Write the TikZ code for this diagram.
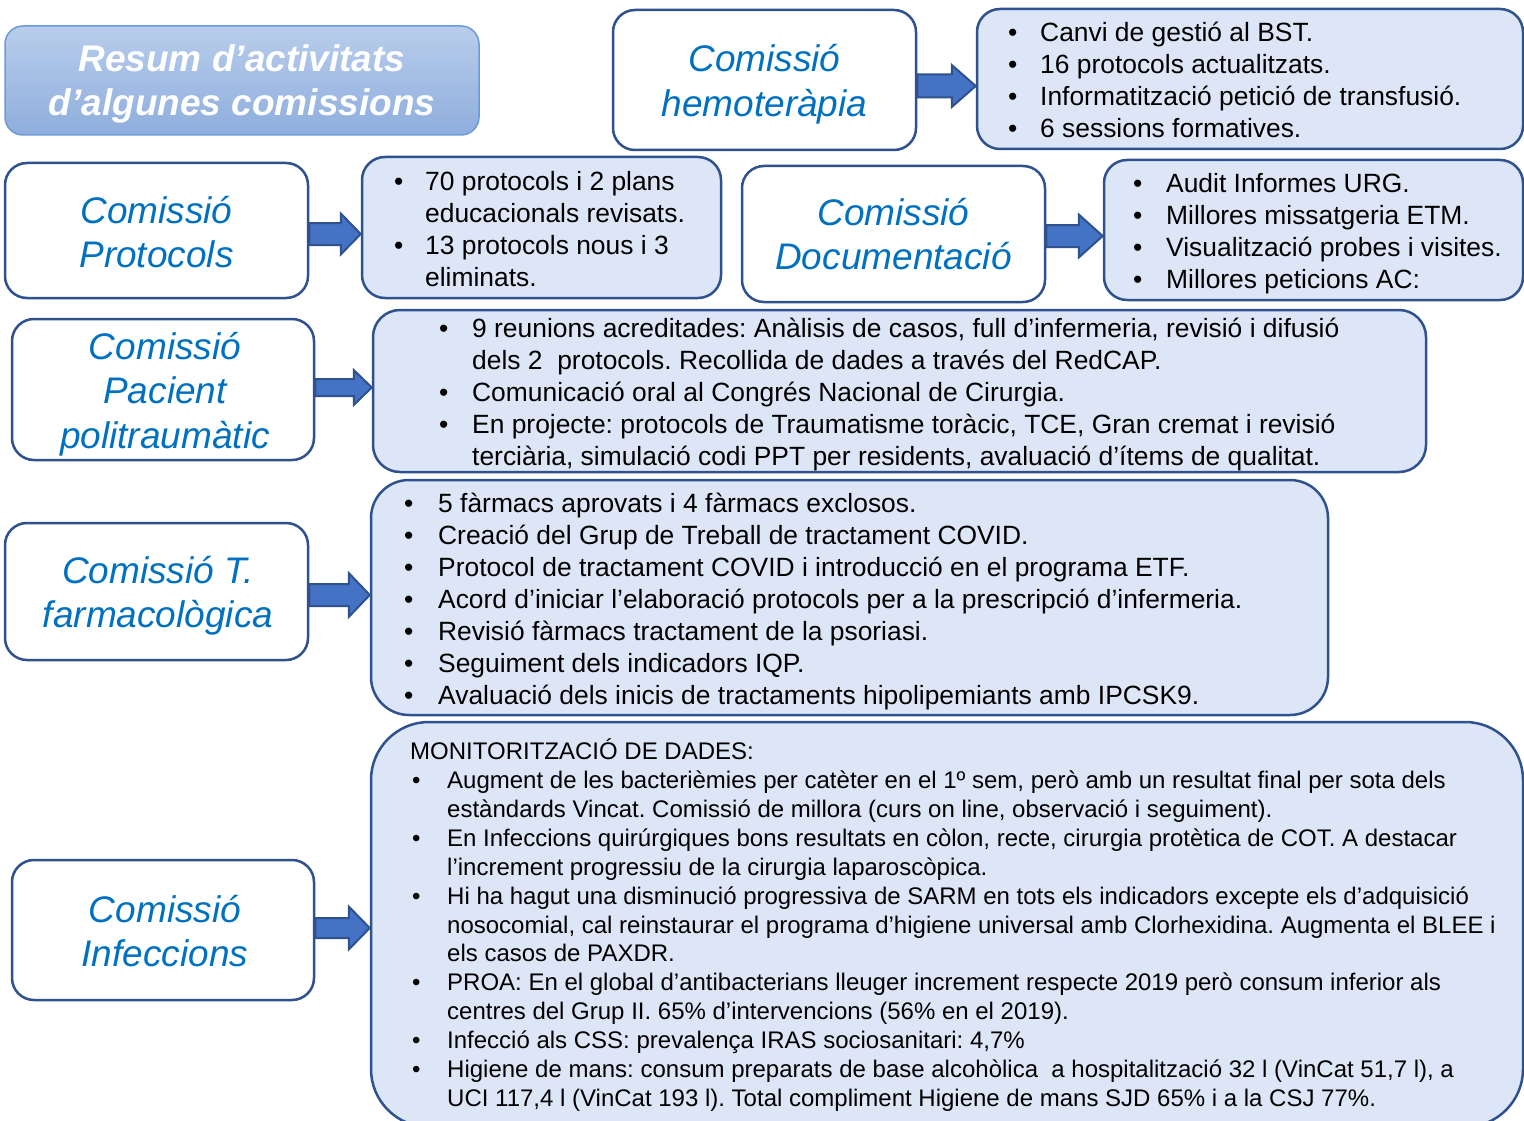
\documentclass[tikz,border=0pt]{standalone}
\usepackage{fontspec}
\setmainfont{Liberation Sans}
\frenchspacing
\usetikzlibrary{calc}
\definecolor{lblue}{HTML}{0070C0}
\definecolor{bord}{HTML}{2F528F}
\definecolor{cfill}{HTML}{DDE6F7}
\definecolor{afill}{HTML}{4472C4}
\definecolor{ttop}{HTML}{B8CDEB}
\definecolor{tbot}{HTML}{8FAEDD}
\definecolor{tbord}{HTML}{6A9BD6}
\newcommand\blkarrow[6]{%
  \draw[blockarrow] ($(#1.east |- #3)+(0,-#4)$) -- ($(#2.west |- #3)+(-#6,-#4)$)
    -- ($(#2.west |- #3)+(-#6,-#5)$) -- (#2.west |- #3) -- ($(#2.west |- #3)+(-#6,#5)$)
    -- ($(#2.west |- #3)+(-#6,#4)$) -- ($(#1.east |- #3)+(0,#4)$) -- cycle;}
\tikzset{
  labbox/.style={draw=bord, line width=2.5pt, fill=white, rectangle, rounded corners=22pt, inner sep=0pt},
  contbox/.style={draw=bord, line width=2.5pt, fill=cfill, rectangle, inner sep=0pt},
  labtxt/.style={text=lblue, font=\fontsize{37}{44.5}\selectfont\itshape, inner sep=0pt, anchor=base},
  bodytxt/.style={text=black, font=\fontsize{26.4}{32}\selectfont, inner sep=0pt, anchor=base west},
  smalltxt/.style={text=black, font=\fontsize{24}{28.9}\selectfont, inner sep=0pt, anchor=base west},
  blockarrow/.style={draw=bord, line width=2pt, fill=afill, line join=miter},
}
\begin{document}
\begin{tikzpicture}[x=1pt,y=-1pt]
\clip (0,0) rectangle (1524,1121);
\fill[white] (0,0) rectangle (1524,1121);

% title
\node[draw=tbord, line width=1.5pt, top color=ttop, bottom color=tbot, rectangle, rounded corners=18pt,
      minimum width=474pt, minimum height=109pt, inner sep=0pt] (title) at (242,80.5) {};
\node[text=white, font=\fontsize{37}{44}\selectfont\bfseries\itshape, inner sep=0pt, anchor=base] (titleT) at (242,72)
  {\begin{tabular}[t]{@{}c@{}}Resum d’activitats\\d’algunes comissions\end{tabular}};

% boxes
\node[labbox, minimum width=303pt, minimum height=140pt] (hemoL) at (764.5,80) {};
\node[contbox, rounded corners=23pt, minimum width=546pt, minimum height=140pt] (hemoC) at (1250,79) {};
\node[labbox, minimum width=303pt, minimum height=135pt] (protL) at (156.5,230.5) {};
\node[contbox, rounded corners=23pt, minimum width=359pt, minimum height=141pt] (protC) at (541.5,227.5) {};
\node[labbox, minimum width=303pt, minimum height=136pt] (docL) at (893.5,234) {};
\node[contbox, rounded corners=23pt, minimum width=419pt, minimum height=140pt] (docC) at (1313.5,230) {};
\node[labbox, minimum width=302pt, minimum height=141pt] (pacL) at (163,389.5) {};
\node[contbox, rounded corners=27pt, minimum width=1053pt, minimum height=162pt] (pacC) at (899.5,391) {};
\node[labbox, minimum width=303pt, minimum height=137pt] (farmL) at (156.5,591.5) {};
\node[contbox, rounded corners=38pt, minimum width=957pt, minimum height=235pt] (farmC) at (849.5,597.5) {};
\node[labbox, minimum width=302pt, minimum height=140pt] (infL) at (163,930) {};
\node[contbox, rounded corners=58pt, minimum width=1152pt, minimum height=405pt] (infC) at (947,924.5) {};

% arrow levels
\coordinate (yhemo) at (0,86);
\coordinate (yprot) at (0,234);
\coordinate (ydoc) at (0,236);
\coordinate (ypac) at (0,387.5);
\coordinate (yfarm) at (0,595);
\coordinate (yinf) at (0,928);
\blkarrow{hemoL}{hemoC}{yhemo}{11.5}{21}{24}
\blkarrow{protL}{protC}{yprot}{11}{20.5}{20}
\blkarrow{docL}{docC}{ydoc}{11}{21.5}{24}
\blkarrow{pacL}{pacC}{ypac}{8.5}{17.5}{18}
\blkarrow{farmL}{farmC}{yfarm}{11}{22}{21}
\blkarrow{infL}{infC}{yinf}{10}{21.5}{21}

% labels
\node[labtxt] (hemoLT) at (764.5,72) {\begin{tabular}[t]{@{}c@{}}Comissió\\hemoteràpia\end{tabular}};
\node[labtxt] (protLT) at (156.5,223) {\begin{tabular}[t]{@{}c@{}}Comissió\\Protocols\end{tabular}};
\node[labtxt] (docLT) at (893.5,225) {\begin{tabular}[t]{@{}c@{}}Comissió\\Documentació\end{tabular}};
\node[labtxt] (pacLT) at (165,359) {\begin{tabular}[t]{@{}c@{}}Comissió\\Pacient\\politraumàtic\end{tabular}};
\node[labtxt] (farmLT) at (158,583) {\begin{tabular}[t]{@{}c@{}}Comissió T.\\farmacològica\end{tabular}};
\node[labtxt] (infLT) at (165,922) {\begin{tabular}[t]{@{}c@{}}Comissió\\Infeccions\end{tabular}};

% contents
\node[bodytxt] (hemoCT) at (1008,41.5) {\begin{tabular}[t]{@{}p{32pt}@{}l@{}}
• & Canvi de gestió al BST.\\
• & 16 protocols actualitzats.\\
• & Informatització petició de transfusió.\\
• & 6 sessions formatives.
\end{tabular}};
\node[bodytxt] (protCT) at (394,190.5) {\begin{tabular}[t]{@{}p{31pt}@{}l@{}}
• & 70 protocols i 2 plans\\
  & educacionals revisats.\\
• & 13 protocols nous i 3\\
  & eliminats.
\end{tabular}};
\node[bodytxt] (docCT) at (1133,192.5) {\begin{tabular}[t]{@{}p{33pt}@{}l@{}}
• & Audit Informes URG.\\
• & Millores missatgeria ETM.\\
• & Visualització probes i visites.\\
• & Millores peticions AC:
\end{tabular}};
\node[bodytxt] (pacCT) at (439,337.5) {\begin{tabular}[t]{@{}p{33pt}@{}l@{}}
• & 9 reunions acreditades: Anàlisis de casos, full d’infermeria, revisió i difusió\\
  & dels 2\ \ protocols. Recollida de dades a través del RedCAP.\\
• & Comunicació oral al Congrés Nacional de Cirurgia.\\
• & En projecte: protocols de Traumatisme toràcic, TCE, Gran cremat i revisió\\
  & terciària, simulació codi PPT per residents, avaluació d’ítems de qualitat.
\end{tabular}};
\node[bodytxt] (farmCT) at (404,512.5) {\begin{tabular}[t]{@{}p{34pt}@{}l@{}}
• & 5 fàrmacs aprovats i 4 fàrmacs exclosos.\\
• & Creació del Grup de Treball de tractament COVID.\\
• & Protocol de tractament COVID i introducció en el programa ETF.\\
• & Acord d’iniciar l’elaboració protocols per a la prescripció d’infermeria.\\
• & Revisió fàrmacs tractament de la psoriasi.\\
• & Seguiment dels indicadors IQP.\\
• & Avaluació dels inicis de tractaments hipolipemiants amb IPCSK9.
\end{tabular}};
\node[smalltxt] (infCT) at (410,759.6) {\begin{tabular}[t]{@{}p{37pt}@{}l@{}}
\multicolumn{2}{@{}l@{}}{MONITORITZACIÓ DE DADES:}\\
\hspace*{2pt}• & Augment de les bacterièmies per catèter en el 1º sem, però amb un resultat final per sota dels\\
  & estàndards Vincat. Comissió de millora (curs on line, observació i seguiment).\\
\hspace*{2pt}• & En Infeccions quirúrgiques bons resultats en còlon, recte, cirurgia protètica de COT. A destacar\\
  & l’increment progressiu de la cirurgia laparoscòpica.\\
\hspace*{2pt}• & Hi ha hagut una disminució progressiva de SARM en tots els indicadors excepte els d’adquisició\\
  & nosocomial, cal reinstaurar el programa d’higiene universal amb Clorhexidina. Augmenta el BLEE i\\
  & els casos de PAXDR.\\
\hspace*{2pt}• & PROA: En el global d’antibacterians lleuger increment respecte 2019 però consum inferior als\\
  & centres del Grup II. 65\% d’intervencions (56\% en el 2019).\\
\hspace*{2pt}• & Infecció als CSS: prevalença IRAS sociosanitari: 4,7\%\\
\hspace*{2pt}• & Higiene de mans: consum preparats de base alcohòlica\ \ a hospitalització 32 l (VinCat 51,7 l), a\\
  & UCI 117,4 l (VinCat 193 l). Total compliment Higiene de mans SJD 65\% i a la CSJ 77\%.
\end{tabular}};
\end{tikzpicture}
\end{document}
